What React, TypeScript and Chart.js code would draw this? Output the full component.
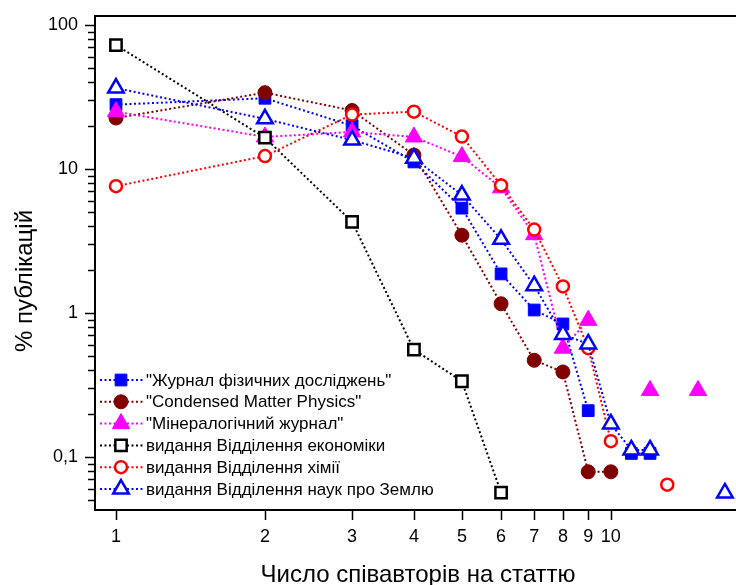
import React, { useEffect, useRef } from 'react';
import { Chart, registerables } from 'chart.js';

Chart.register(...registerables);

// ---- data ----
const coauthors = [1, 2, 3, 4, 5, 6, 7, 8, 9, 10, 11, 12, 13, 14, 15, 16, 17];
const xTickValues = [1, 2, 3, 4, 5, 6, 7, 8, 9, 10];
const yTickValues = [0.1, 1, 10, 100];
const yTickLabels = ['0,1', '1', '10', '100'];
const yMinorTickValues = [
  0.05, 0.06, 0.07, 0.08, 0.09,
  0.2, 0.3, 0.4, 0.5, 0.6, 0.7, 0.8, 0.9,
  2, 3, 4, 5, 6, 7, 8, 9,
  20, 30, 40, 50, 60, 70, 80, 90,
];

const seriesNames = [
  '"Журнал фізичних досліджень"',
  '"Condensed Matter Physics"',
  '"Мінералогічний журнал"',
  'видання Відділення економіки',
  'видання Відділення хімії',
  'видання Відділення наук про Землю',
];

const physJournal = [28, 31, 20, 11.2, 5.35, 1.87, 1.05, 0.84, 0.21, null, 0.106, 0.106, null, null, null, null, null];
const condMatter = [22.6, 33.9, 25.5, 12.5, 3.47, 1.16, 0.47, 0.39, 0.079, 0.079, null, null, null, null, null, null, null];
const mineralJournal = [25, 16.7, 18.1, 16.7, 12.2, 7.4, 3.5, 0.57, 0.89, null, null, 0.29, null, null, 0.29, null, null];
const economics = [72.6, 16.5, 4.3, 0.557, 0.336, 0.0566, null, null, null, null, null, null, null, null, null, null, null];
const chemistry = [7.6, 12.3, 23.9, 25.0, 16.8, 7.7, 3.8, 1.53, 0.57, 0.129, null, null, 0.0643, null, null, null, null];
const earthSci = [36.5, 22.3, 15.9, 11.9, 6.6, 3.25, 1.55, 0.71, 0.61, 0.17, 0.112, 0.112, null, null, null, null, 0.0563];

const xTitle = 'Число співавторів на статтю';
const yTitle = '% публікацій';

const FONT = '"Liberation Sans", Arial, sans-serif';

type Style = {
  color: string;
  pointStyle: 'rect' | 'circle' | 'triangle';
  radius: number;
  fill: string;
  borderWidth: number;
};

const styles: Style[] = [
  { color: '#0000FF', pointStyle: 'rect', radius: 8.3, fill: '#0000FF', borderWidth: 1 },
  { color: '#800000', pointStyle: 'circle', radius: 7, fill: '#800000', borderWidth: 1 },
  { color: '#FF00FF', pointStyle: 'triangle', radius: 10, fill: '#FF00FF', borderWidth: 1 },
  { color: '#000000', pointStyle: 'rect', radius: 8, fill: '#FFFFFF', borderWidth: 2.5 },
  { color: '#FF0000', pointStyle: 'circle', radius: 6, fill: '#FFFFFF', borderWidth: 2.5 },
  { color: '#0000FF', pointStyle: 'triangle', radius: 9, fill: '#FFFFFF', borderWidth: 2.5 },
];

const DASH = [2, 2.5];

function drawMarker(ctx: CanvasRenderingContext2D, s: Style, x: number, y: number) {
  const r = s.radius;
  ctx.beginPath();
  if (s.pointStyle === 'rect') {
    const h = r * Math.SQRT1_2;
    ctx.rect(x - h, y - h, 2 * h, 2 * h);
  } else if (s.pointStyle === 'circle') {
    ctx.arc(x, y, r, 0, Math.PI * 2);
  } else {
    const sx = r * Math.sin((2 * Math.PI) / 3);
    ctx.moveTo(x, y - r);
    ctx.lineTo(x + sx, y + r * 0.5);
    ctx.lineTo(x - sx, y + r * 0.5);
    ctx.closePath();
  }
  ctx.setLineDash([]);
  ctx.fillStyle = s.fill;
  ctx.fill();
  if (s.borderWidth > 0) {
    ctx.lineWidth = s.borderWidth;
    ctx.strokeStyle = s.color;
    ctx.stroke();
  }
}

const decorPlugin = {
  id: 'decor',
  afterDraw(chart: any) {
    const { ctx, chartArea, scales } = chart;
    const xs = scales.x;
    const ys = scales.y;
    ctx.save();
    ctx.strokeStyle = '#000';
    ctx.setLineDash([]);
    // top frame line
    ctx.lineWidth = 2;
    ctx.beginPath();
    ctx.moveTo(chartArea.left - 1, chartArea.top);
    ctx.lineTo(chartArea.right, chartArea.top);
    ctx.stroke();
    // y tick marks
    ctx.lineWidth = 1.5;
    yTickValues.forEach((v) => {
      const y = Math.round(ys.getPixelForValue(v)) + 0.5;
      ctx.beginPath();
      ctx.moveTo(chartArea.left - 10, y);
      ctx.lineTo(chartArea.left, y);
      ctx.stroke();
    });
    yMinorTickValues.forEach((v) => {
      const y = Math.round(ys.getPixelForValue(v)) + 0.5;
      ctx.beginPath();
      ctx.moveTo(chartArea.left - 7, y);
      ctx.lineTo(chartArea.left, y);
      ctx.stroke();
    });
    // x tick marks
    xTickValues.forEach((v) => {
      const x = Math.round(xs.getPixelForValue(v)) + 0.5;
      ctx.beginPath();
      ctx.moveTo(x, chartArea.bottom);
      ctx.lineTo(x, chartArea.bottom + 10);
      ctx.stroke();
    });
    // axis titles
    ctx.fillStyle = '#000';
    ctx.font = `24px ${FONT}`;
    ctx.textAlign = 'center';
    ctx.textBaseline = 'middle';
    ctx.fillText(xTitle, 418, 575);
    ctx.save();
    ctx.translate(25, 281);
    ctx.rotate(-Math.PI / 2);
    ctx.fillText(yTitle, 0, 0);
    ctx.restore();
    // legend
    ctx.font = `17px ${FONT}`;
    ctx.textAlign = 'left';
    seriesNames.forEach((name, i) => {
      const s = styles[i];
      const y = 380 + i * 21.8;
      ctx.strokeStyle = s.color;
      ctx.lineWidth = 2;
      ctx.setLineDash(DASH);
      ctx.beginPath();
      ctx.moveTo(100, y);
      ctx.lineTo(143, y);
      ctx.stroke();
      drawMarker(ctx, s, 121, y);
      ctx.fillStyle = '#000';
      ctx.fillText(name, 146, y + 1);
    });
    ctx.restore();
  },
};

function zeroPadding(scale: any) {
  scale.paddingTop = 0;
  scale.paddingBottom = 0;
  scale.paddingLeft = 0;
  scale.paddingRight = 0;
}

export default function App() {
  const ref = useRef<HTMLCanvasElement | null>(null);

  useEffect(() => {
    if (!ref.current) return;
    const allSeries = [physJournal, condMatter, mineralJournal, economics, chemistry, earthSci];
    const datasets = allSeries.map((vals, i) => {
      const s = styles[i];
      return {
        label: seriesNames[i],
        data: coauthors.map((x, j) => ({ x, y: vals[j] })),
        borderColor: s.color,
        borderWidth: 2,
        borderDash: DASH,
        backgroundColor: s.fill,
        pointStyle: s.pointStyle,
        pointRadius: s.radius,
        pointBackgroundColor: s.fill,
        pointBorderColor: s.color,
        pointBorderWidth: s.borderWidth,
        spanGaps: false,
        tension: 0,
        fill: false,
        order: 5 - i,
        clip: false as any,
      };
    });

    const chart = new Chart(ref.current, {
      type: 'line',
      data: { datasets: datasets as any },
      options: {
        animation: false,
        responsive: false,
        events: [],
        layout: { autoPadding: false, padding: { top: 16, left: 0, right: 0, bottom: 0 } },
        plugins: {
          legend: { display: false },
          tooltip: { enabled: false },
          title: { display: false },
        },
        scales: {
          x: {
            type: 'logarithmic',
            min: 0.907,
            max: 17.9,
            grid: { display: false, drawTicks: false },
            border: { display: true, color: '#000', width: 2 },
            afterBuildTicks: (scale: any) => {
              scale.ticks = xTickValues.map((v) => ({ value: v }));
            },
            afterFit: (scale: any) => {
              scale.height = 75;
              zeroPadding(scale);
            },
            ticks: {
              autoSkip: false,
              maxRotation: 0,
              padding: 16,
              color: '#000',
              font: { family: FONT, size: 18 },
              callback: (v: any) => String(v),
            },
          },
          y: {
            type: 'logarithmic',
            min: 0.0429,
            max: 115.5,
            grid: { display: false, drawTicks: false },
            border: { display: true, color: '#000', width: 2 },
            afterBuildTicks: (scale: any) => {
              scale.ticks = yTickValues.map((v) => ({ value: v }));
            },
            afterFit: (scale: any) => {
              scale.width = 95;
              zeroPadding(scale);
            },
            ticks: {
              autoSkip: false,
              padding: 17,
              color: '#000',
              font: { family: FONT, size: 18 },
              callback: (v: any) => {
                const idx = yTickValues.indexOf(Number(v));
                return idx >= 0 ? yTickLabels[idx] : '';
              },
            },
          },
        },
      },
      plugins: [decorPlugin],
    });
    return () => chart.destroy();
  }, []);

  return (
    <div style={{ position: 'fixed', left: 0, top: 0, width: 736, height: 585, background: '#fff' }}>
      <canvas ref={ref} width={736} height={585} style={{ width: 736, height: 585, display: 'block' }} />
    </div>
  );
}
